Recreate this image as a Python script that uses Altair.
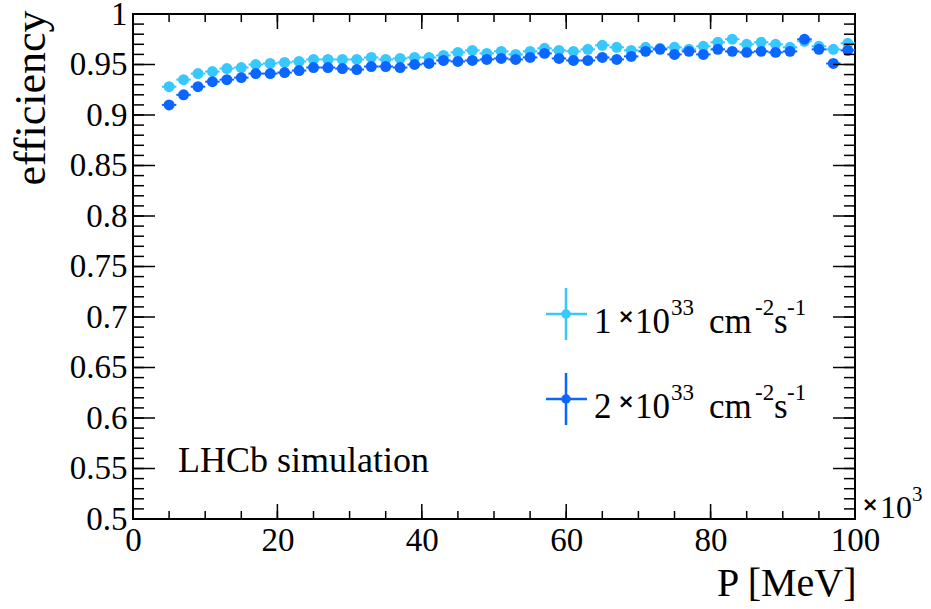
import altair as alt
import pandas as pd

# Momentum bin centres (x10^3 MeV)
momentum = [5, 7, 9, 11, 13, 15, 17, 19, 21, 23, 25, 27, 29, 31, 33,
            35, 37, 39, 41, 43, 45, 47, 49, 51, 53, 55, 57, 59, 61, 63, 65, 67,
            69, 71, 73, 75, 77, 79, 81, 83, 85, 87, 89, 91, 93, 95, 97, 99]

# Efficiency at 1e33 cm^-2 s^-1
eff_lumi1 = [0.928, 0.935, 0.941, 0.943, 0.946, 0.947, 0.950, 0.951, 0.952, 0.953,
             0.955, 0.955, 0.955, 0.955, 0.957,
             0.955, 0.956, 0.957, 0.957, 0.959, 0.962, 0.964, 0.961, 0.963, 0.960,
             0.963, 0.966, 0.964, 0.963, 0.965, 0.969, 0.967,
             0.964, 0.967, 0.966, 0.967, 0.965, 0.968, 0.972, 0.975, 0.970, 0.972,
             0.970, 0.967, 0.973, 0.968, 0.965, 0.971]

# Efficiency at 2e33 cm^-2 s^-1
eff_lumi2 = [0.910, 0.920, 0.928, 0.933, 0.935, 0.937, 0.941, 0.941, 0.942, 0.944,
             0.947, 0.947, 0.946, 0.945, 0.948,
             0.948, 0.947, 0.950, 0.951, 0.954, 0.953, 0.954, 0.955, 0.956, 0.955,
             0.957, 0.961, 0.956, 0.954, 0.954, 0.957, 0.955,
             0.958, 0.963, 0.965, 0.960, 0.963, 0.960, 0.965, 0.963, 0.962, 0.963,
             0.962, 0.963, 0.975, 0.965, 0.951, 0.964]

bin_half_width = 1.0

y_ticks_major = [0.5, 0.55, 0.6, 0.65, 0.7, 0.75, 0.8, 0.85, 0.9, 0.95, 1.0]
y_ticks_minor = [round(0.5 + 0.01 * i, 2) for i in range(51)]
x_ticks_major = [0, 20, 40, 60, 80, 100]
x_ticks_minor = [0, 5, 10, 15, 20, 25, 30, 35, 40, 45, 50, 55, 60, 65, 70, 75, 80, 85, 90, 95, 100]

LIGHT = "#36c8ff"
DARK = "#0a66ff"
SERIF = "Liberation Serif"

W, H = 722, 505

xscale = alt.Scale(domain=[0, 100], nice=False, zero=False)
yscale = alt.Scale(domain=[0.5, 1.0], nice=False, zero=False)


def series_frame(values):
    return pd.DataFrame({
        "P": momentum,
        "eff": values,
        "lo": [p - bin_half_width for p in momentum],
        "hi": [p + bin_half_width for p in momentum],
    })


x_axis = alt.Axis(values=x_ticks_major, ticks=False, domain=False, grid=False,
                  labelFont=SERIF, labelFontSize=33, labelColor="black",
                  labelPadding=5, labelFlush=False, labelOverlap=False,
                  title="P [MeV]", titleFont=SERIF, titleFontSize=40,
                  titleFontWeight="normal", titleColor="black",
                  titleX=W + 1, titleY=76, titleAlign="right",
                  titleBaseline="alphabetic")
y_axis = alt.Axis(values=y_ticks_major, format="~g", ticks=False, domain=False,
                  grid=False, labelFont=SERIF, labelFontSize=33,
                  labelColor="black", labelPadding=6, labelFlush=False,
                  labelOverlap=False,
                  title="efficiency", titleFont=SERIF, titleFontSize=44,
                  titleFontWeight="normal", titleColor="black",
                  titleAngle=270, titleX=-89, titleY=-4, titleAlign="right",
                  titleBaseline="alphabetic")


def series_layers(values, color, with_axes):
    df = series_frame(values)
    base = alt.Chart(df)
    if with_axes:
        xenc = alt.X("P:Q", scale=xscale, axis=x_axis)
        yenc = alt.Y("eff:Q", scale=yscale, axis=y_axis)
    else:
        xenc = alt.X("P:Q", scale=xscale)
        yenc = alt.Y("eff:Q", scale=yscale)
    pts = base.mark_circle(color=color, size=120, opacity=1).encode(x=xenc, y=yenc)
    bars = base.mark_rule(color=color, strokeWidth=2).encode(
        x=alt.X("lo:Q", scale=xscale), x2="hi:Q",
        y=alt.Y("eff:Q", scale=yscale))
    return [bars, pts]


# Inward-pointing ticks on all four sides of the frame
def yticks(vals, length):
    d = pd.DataFrame({"v": vals})
    left = alt.Chart(d).mark_rule(color="black", strokeWidth=1.5).encode(
        y=alt.Y("v:Q", scale=yscale), x=alt.value(0), x2=alt.value(length))
    right = alt.Chart(d).mark_rule(color="black", strokeWidth=1.5).encode(
        y=alt.Y("v:Q", scale=yscale), x=alt.value(W), x2=alt.value(W - length))
    return [left, right]


def xticks(vals, length):
    d = pd.DataFrame({"v": vals})
    bottom = alt.Chart(d).mark_rule(color="black", strokeWidth=1.5).encode(
        x=alt.X("v:Q", scale=xscale), y=alt.value(H), y2=alt.value(H - length))
    top = alt.Chart(d).mark_rule(color="black", strokeWidth=1.5).encode(
        x=alt.X("v:Q", scale=xscale), y=alt.value(0), y2=alt.value(length))
    return [bottom, top]


def label(text, x, y, size, font=SERIF, weight="normal", baseline="alphabetic",
          align="left"):
    return alt.Chart(pd.DataFrame({"t": [text]})).mark_text(
        font=font, fontSize=size, fontWeight=weight, color="black",
        baseline=baseline, align=align).encode(
        text="t:N", x=alt.value(x), y=alt.value(y))


def legend_entry(color, cy, digit):
    d = pd.DataFrame({"k": [0]})
    vline = alt.Chart(d).mark_rule(color=color, strokeWidth=2.5).encode(
        x=alt.value(433), y=alt.value(cy - 26), y2=alt.value(cy + 26))
    hline = alt.Chart(d).mark_rule(color=color, strokeWidth=2.5).encode(
        y=alt.value(cy), x=alt.value(413), x2=alt.value(454))
    dot = alt.Chart(d).mark_circle(color=color, size=90, opacity=1).encode(
        x=alt.value(433), y=alt.value(cy))
    base = cy + 19
    sup = cy + 1
    return [
        vline, hline, dot,
        label(digit, 461, base, 35),
        label("\u00d7", 493, cy + 3, 20, font="DejaVu Sans", weight="bold",
              baseline="middle", align="center"),
        label("10", 502, base, 35),
        label("33", 538, sup, 23),
        label("cm", 576, base, 35),
        label("-2", 622, sup, 23),
        label("s", 641, base, 35),
        label("-1", 654, sup, 23),
    ]


layers = []
layers += series_layers(eff_lumi1, LIGHT, True)
layers += series_layers(eff_lumi2, DARK, False)
layers += yticks(y_ticks_minor, 11)
layers += yticks(y_ticks_major, 22)
layers += xticks(x_ticks_minor, 8)
layers += xticks(x_ticks_major, 15)
layers += legend_entry(LIGHT, 300, "1")
layers += legend_entry(DARK, 385, "2")
layers.append(label("LHCb simulation", 45, 458, 36))
# axis multiplier at the end of the x axis
layers.append(label("\u00d7", 737, 491, 20, font="DejaVu Sans", weight="bold",
                    baseline="middle", align="center"))
layers.append(label("10", 747, 504, 32))
layers.append(label("3", 779, 487, 21))

chart = alt.layer(*layers).properties(
    width=W, height=H,
    autosize=alt.AutoSizeParams(type="none"),
    padding={"left": 133, "top": 14, "right": 76, "bottom": 90},
    background="white",
).configure_view(stroke="black", strokeWidth=2)

chart.save("out.html", embed_options={"renderer": "svg", "actions": False})
